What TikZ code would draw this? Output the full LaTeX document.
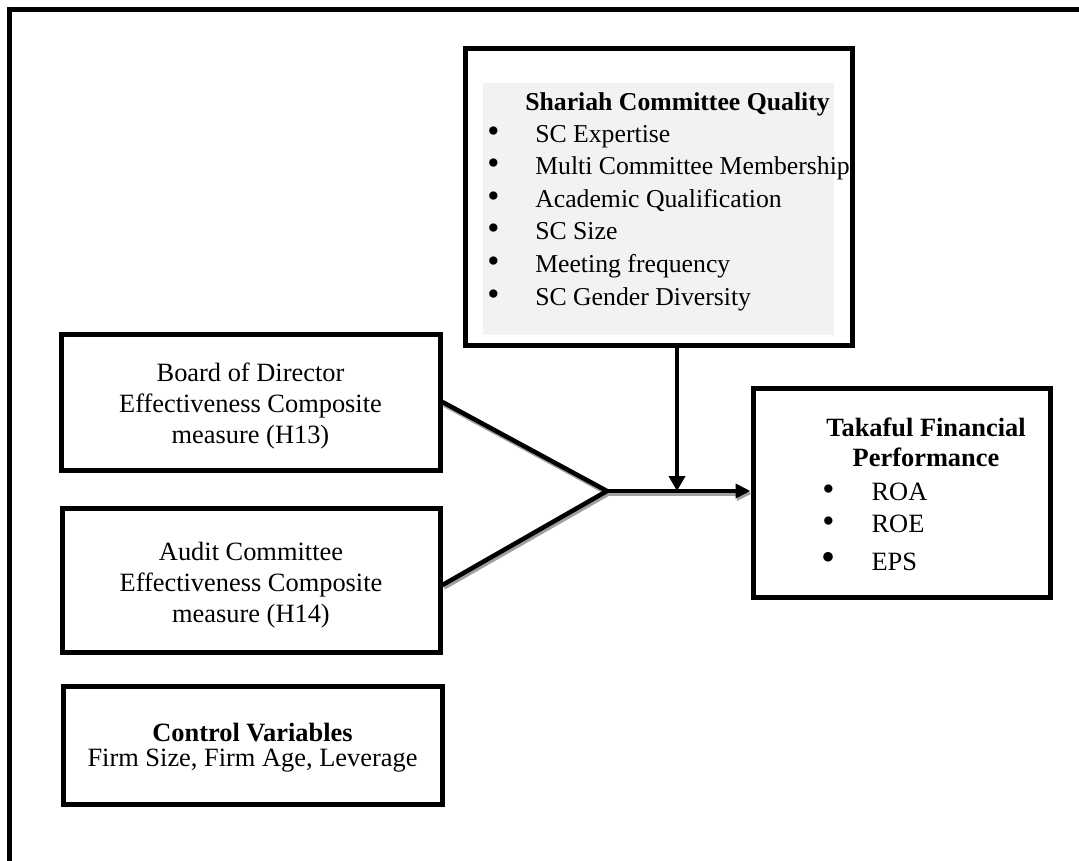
\documentclass[tikz,border=0pt]{standalone}
\usepackage{fontspec}
\setmainfont{Liberation Serif}
\usetikzlibrary{arrows.meta}
\definecolor{panelgray}{HTML}{F2F2F2}
\definecolor{shadegray}{HTML}{A0A0A0}
\newcommand{\bul}{{\fontsize{26pt}{26pt}\selectfont\textbullet}}
\newcommand{\bigbul}{{\fontsize{30pt}{30pt}\selectfont\textbullet}}
\begin{document}
\begin{tikzpicture}[x=0.75pt, y=-0.75pt,
  txt/.style={font=\fontsize{19.8pt}{23.25pt}\selectfont, inner sep=0pt},
  sctxt/.style={font=\fontsize{19.3pt}{23.25pt}\selectfont, inner sep=0pt},
  boxed/.style={draw, line width=3.75pt, rectangle, inner sep=0pt},
  conn/.style={line width=3.4pt, line join=miter},
  shade/.style={conn, draw=shadegray, transform canvas={xshift=1.1pt, yshift=-1.9pt}},
  tipH/.style={-{Triangle[length=11.25pt, width=10.5pt]}},
  tipV/.style={-{Triangle[length=11.25pt, width=12pt]}}
]
\useasboundingbox (0,0) rectangle (1079,861);
\clip (0,0) rectangle (1079,861);
% outer frame (only top and left edges fall inside the picture)
\draw[line width=3.75pt] (1100,9.5) -- (9.5,9.5) -- (9.5,900);

% Shariah committee box
\node[boxed, minimum width=290.25pt, minimum height=222.75pt] (sc) at (658.5,196.5) {};
\fill[panelgray] (483,83) rectangle (834,335);
\node[sctxt, anchor=base west] (sctitle) at (525,110) {\bfseries Shariah Committee Quality};
\foreach \t [count=\i] in {SC Expertise, Multi Committee Membership, Academic Qualification, SC Size, Meeting frequency, SC Gender Diversity}{
  \node[sctxt, anchor=base west] (sc\i) at (487, {142+(\i-1)*32.6}) {\makebox[36pt][l]{\bul}\t};
}

% left boxes
\node[boxed, minimum width=284.25pt, minimum height=102pt] (board) at (250.5,402) {};
\node[txt, align=center] (boardtxt) at (250.5,406)
  {Board of Director\\Effectiveness Composite\\measure (H13)};
\node[boxed, minimum width=283.5pt, minimum height=108pt] (audit) at (251,580) {};
\node[txt, align=center] (audittxt) at (251,585)
  {Audit Committee\\Effectiveness Composite\\measure (H14)};
\node[boxed, minimum width=284.25pt, minimum height=88.5pt] (ctrl) at (252.5,745) {};
\node[txt, align=center] (ctrltxt) at (252.5,747.5)
  {\textbf{Control Variables}\\[-4.5pt]Firm Size, Firm Age, Leverage};

% Takaful box
\node[boxed, minimum width=222.75pt, minimum height=156.75pt] (tff) at (901.5,492.5) {};
\node[txt, anchor=base] (tfft1) at (926,436) {\bfseries Takaful Financial};
\node[txt, anchor=base] (tfft2) at (926,466) {\bfseries Performance};
\node[txt, anchor=base west] (tff1) at (822,500) {\makebox[37pt][l]{\bul}ROA};
\node[txt, anchor=base west] (tff2) at (822,532) {\makebox[37pt][l]{\bul}ROE};
\node[txt, anchor=base west] (tff3) at (821,570) {\makebox[37.75pt][l]{\bigbul}EPS};

% connectors
\coordinate (j) at (607,491);
\coordinate (m) at (677,491);
\draw[shade] (board.east) -- (j) -- ([yshift=-3.75pt]audit.east);
\draw[shade, tipH] (j) -- (j -| tff.west);
\draw[conn] (board.east) -- (j) -- ([yshift=-3.75pt]audit.east);
\draw[conn, tipH] (j) -- (j -| tff.west);
\draw[line width=3pt, tipV] (sc.south -| m) -- (m);
\end{tikzpicture}
\end{document}
